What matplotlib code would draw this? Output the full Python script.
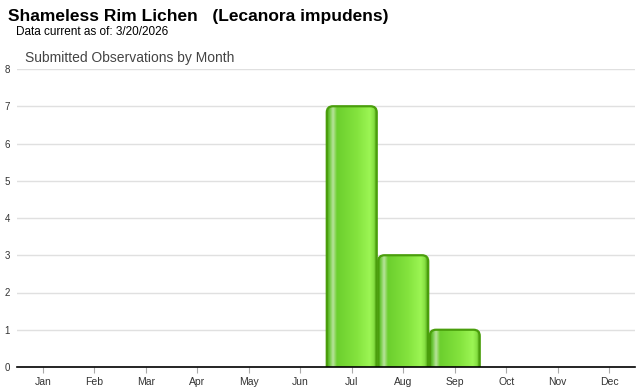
import numpy as np
import matplotlib
matplotlib.use("Agg")
import matplotlib.pyplot as plt
from matplotlib.patches import FancyBboxPatch
from matplotlib.colors import LinearSegmentedColormap

plt.rcParams['font.family'] = ['Liberation Sans', 'DejaVu Sans']

months = ["Jan", "Feb", "Mar", "Apr", "May", "Jun", "Jul", "Aug", "Sep", "Oct", "Nov", "Dec"]
counts = [0, 0, 0, 0, 0, 0, 7, 3, 1, 0, 0, 0]
yticks = [0, 1, 2, 3, 4, 5, 6, 7, 8]

# horizontal shading of the bars
grad = LinearSegmentedColormap.from_list("bar", [
    (0.0, "#4a9e14"), (0.05, "#6cc93a"), (0.12, "#b9e39c"), (0.2, "#6ccf2e"),
    (0.6, "#84e33e"), (0.86, "#9cf554"), (0.94, "#86e042"), (1.0, "#4a9e10")])

fig = plt.figure(figsize=(6.4, 3.9), dpi=100)
ax = fig.add_axes([17/640, 23/390, 618/640, 298/390])

x = np.arange(len(months))
ax.set_xlim(-0.5, len(months) - 0.5)
ax.set_ylim(0, 8)

w = 0.97
rx = 0.12
ry = rx * (51.5/37.25)
strip = np.linspace(0, 1, 256).reshape(1, -1)
for i, c in enumerate(counts):
    if c <= 0:
        continue
    left = x[i] - w/2
    box = FancyBboxPatch((left, -0.3), w, c + 0.3,
                         boxstyle="round,pad=0,rounding_size=%f" % rx,
                         mutation_aspect=ry/rx, facecolor="none",
                         edgecolor="#4a9e0c", linewidth=1.6, zorder=3)
    ax.add_patch(box)
    im = ax.imshow(strip, cmap=grad, aspect="auto", extent=(left, left + w, -0.3, c),
                   zorder=2, interpolation="bilinear")
    im.set_clip_path(box)

ax.set_xticks(x)
ax.set_xticklabels(months, fontsize=7.5, color="#333333")
ax.set_yticks(yticks)
ax.set_yticklabels([str(v) for v in yticks], fontsize=7, color="#333333")
ax.tick_params(axis="x", length=4, color="#aaaaaa", pad=3)
ax.tick_params(axis="y", length=0, pad=5)
ax.yaxis.grid(True, color="#e0e0e0", linewidth=1)
ax.set_axisbelow(True)
for s in ["top", "right", "left"]:
    ax.spines[s].set_visible(False)
ax.spines["bottom"].set_color("black")
ax.spines["bottom"].set_linewidth(1.2)
ax.spines["bottom"].set_zorder(5)

fig.text(8/640, 1 - 16/390, "Shameless Rim Lichen   (Lecanora impudens)",
         fontsize=12.5, fontweight="bold", va="center", ha="left")
fig.text(16/640, 1 - 32/390, "Data current as of: 3/20/2026", fontsize=8.5, va="center", ha="left")
fig.text(25/640, 1 - 58/390, "Submitted Observations by Month", fontsize=10,
         color="#444444", va="center", ha="left")

fig.savefig("out.png", dpi=100)
